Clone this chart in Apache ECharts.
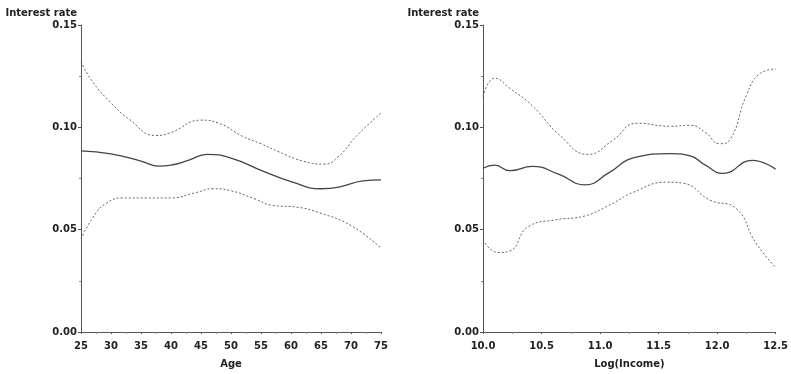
<!DOCTYPE html>
<html>
<head>
<meta charset="utf-8">
<script src="https://cdn.jsdelivr.net/npm/echarts@6/dist/echarts.min.js"></script>
<style>
  html, body { margin: 0; padding: 0; background: #fff; }
  #main { width: 791px; height: 374px; }
</style>
</head>
<body>
<div id="main"></div>
<script>
// left panel: interest rate vs age
var ageMid = [25, 30, 35, 38, 40, 43, 46, 50, 55, 60, 65, 68, 72, 75];
var rateMid = [0.0885, 0.0870, 0.0835, 0.0810, 0.0815, 0.0840, 0.0868, 0.0850, 0.0790, 0.0735, 0.0700, 0.0708, 0.0738, 0.0743];
var ageUp = [25, 27, 30, 33, 37.5, 40, 45, 48, 52, 55, 58, 62, 65.5, 68, 71, 75];
var rateUp = [0.1320, 0.1220, 0.1120, 0.1040, 0.0960, 0.0975, 0.1035, 0.1020, 0.0955, 0.0920, 0.0880, 0.0835, 0.0820, 0.0860, 0.0960, 0.1070];
var ageLow = [25, 27, 29, 32, 36, 40, 44, 47, 50, 54, 57, 61, 65, 70, 75];
var rateLow = [0.0455, 0.0560, 0.0625, 0.0655, 0.0655, 0.0655, 0.0680, 0.0700, 0.0690, 0.0650, 0.0618, 0.0610, 0.0580, 0.0520, 0.0410];

// right panel: interest rate vs log(income)
var incMid = [10.0, 10.1, 10.23, 10.42, 10.65, 10.87, 11.08, 11.29, 11.6, 11.77, 11.9, 12.05, 12.3, 12.5];
var rMid = [0.0800, 0.0815, 0.0788, 0.0809, 0.0770, 0.0719, 0.0780, 0.0852, 0.0872, 0.0861, 0.0815, 0.0775, 0.0839, 0.0795];
var incUp = [10.0, 10.1, 10.23, 10.42, 10.65, 10.9, 11.1, 11.32, 11.6, 11.77, 11.9, 12.02, 12.11, 12.25, 12.36, 12.5];
var rUp = [0.1150, 0.1240, 0.1190, 0.1106, 0.0964, 0.0868, 0.0933, 0.1020, 0.1005, 0.1010, 0.0975, 0.0920, 0.0940, 0.1157, 0.1260, 0.1285];
var incLow = [10.0, 10.13, 10.23, 10.39, 10.62, 10.87, 11.08, 11.29, 11.57, 11.71, 11.94, 12.16, 12.33, 12.5];
var rLow = [0.0450, 0.0388, 0.0396, 0.0516, 0.0548, 0.0567, 0.0620, 0.0684, 0.0732, 0.0727, 0.0644, 0.0604, 0.0436, 0.0315];

var yTicks = [0, 0.05, 0.10, 0.15];

function pairs(xs, ys) {
  return xs.map(function (x, i) { return [x, ys[i]]; });
}

var txt = '#222';
var axisCol = '#555';
var font = 'DejaVu Sans';

function yAxis(idx) {
  return {
    gridIndex: idx,
    type: 'value',
    min: yTicks[0],
    max: yTicks[yTicks.length - 1],
    interval: 0.05,
    name: 'Interest rate',
    nameLocation: 'end',
    nameGap: 12,
    nameTextStyle: {
      color: txt, fontFamily: font, fontWeight: 'bold', fontSize: 10,
      align: 'right', verticalAlign: 'middle', padding: [0, 4, 0, 0]
    },
    axisLine: { show: true, lineStyle: { color: axisCol, width: 1 } },
    axisTick: { show: true, length: 3, lineStyle: { color: axisCol } },
    minorTick: { show: true, splitNumber: 2, length: 2, lineStyle: { color: '#888' } },
    splitLine: { show: false },
    axisLabel: {
      color: txt, fontFamily: font, fontWeight: 'bold', fontSize: 10, margin: 4,
      formatter: function (v) { return v.toFixed(2); }
    }
  };
}

function xAxis(idx, min, max, step, name, dec) {
  return {
    gridIndex: idx,
    type: 'value',
    min: min,
    max: max,
    interval: step,
    name: name,
    nameLocation: 'middle',
    nameGap: 27,
    nameTextStyle: { color: txt, fontFamily: font, fontWeight: 'bold', fontSize: 10 },
    axisLine: { show: true, onZero: false, lineStyle: { color: axisCol, width: 1 } },
    axisTick: { show: true, length: 2, lineStyle: { color: axisCol } },
    minorTick: { show: true, splitNumber: 2, length: 2, lineStyle: { color: '#888' } },
    splitLine: { show: false },
    axisLabel: {
      color: txt, fontFamily: font, fontWeight: 'bold', fontSize: 10, margin: 9,
      formatter: function (v) { return v.toFixed(dec); }
    }
  };
}

function line(idx, data, dashed) {
  return {
    type: 'line',
    xAxisIndex: idx,
    yAxisIndex: idx,
    data: data,
    smooth: 0.5,
    symbol: 'none',
    silent: true,
    lineStyle: dashed
      ? { color: '#666', width: 1, type: [2, 2] }
      : { color: '#444', width: 1.3 }
  };
}

var chart = echarts.init(document.getElementById('main'), null, { renderer: 'canvas' });
chart.setOption({
  backgroundColor: '#fff',
  animation: false,
  grid: [
    { left: 81, top: 25, width: 300, height: 311 },
    { left: 483, top: 25, width: 297, height: 312 }
  ],
  xAxis: [
    xAxis(0, 25, 75, 5, 'Age', 0),
    xAxis(1, 10, 12.5, 0.5, 'Log(Income)', 1)
  ],
  yAxis: [yAxis(0), yAxis(1)],
  series: [
    line(0, pairs(ageMid, rateMid), false),
    line(0, pairs(ageUp, rateUp), true),
    line(0, pairs(ageLow, rateLow), true),
    line(1, pairs(incMid, rMid), false),
    line(1, pairs(incUp, rUp), true),
    line(1, pairs(incLow, rLow), true)
  ]
});
</script>
</body>
</html>
